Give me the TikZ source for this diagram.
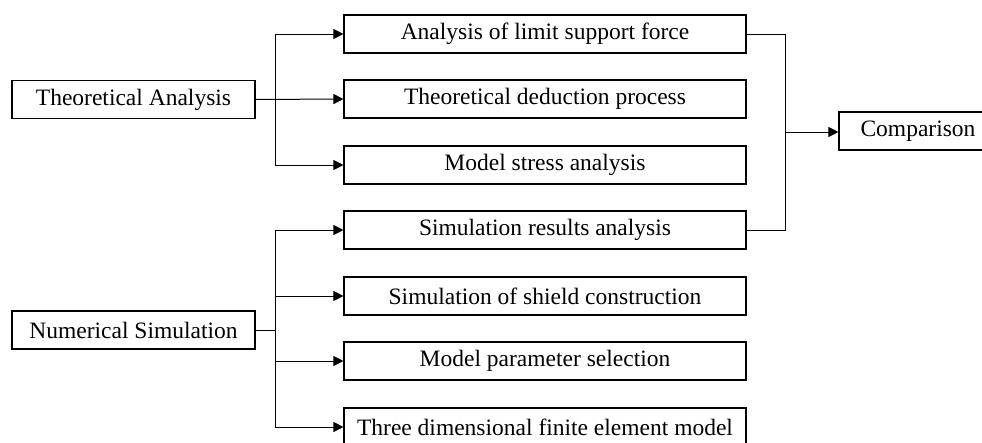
\documentclass[tikz,border=0pt]{standalone}
\usepackage{fontspec}
\setmainfont{Liberation Serif}
\usetikzlibrary{positioning,arrows.meta,calc}

\tikzset{
    box/.style={draw, line width=1.1pt, minimum height=38pt, inner sep=0pt, font=\fontsize{23.5}{26}\selectfont},
    lbox/.style={box, minimum width=243pt},
    rbox/.style={box, minimum width=402pt},
    arr/.style={line width=1pt, -{Triangle[length=10pt,width=10pt]}},
    lin/.style={line width=1pt}
}

\begin{document}
\begin{tikzpicture}[x=1pt, y=-1pt]
    \useasboundingbox (0,0) rectangle (982,442);

    % Linker blokken
    \node[lbox] (theory) at (133.5,99.5) {Theoretical Analysis};
    \node[lbox] (numsim) at (133.5,330) {Numerical Simulation};

    % Rechter blokken
    \node[rbox] (limit)  at (545,34)  {Analysis of limit support force};
    \node[rbox] (deduct) at (545,99)  {Theoretical deduction process};
    \node[rbox] (stress) at (545,165) {Model stress analysis};
    \node[rbox] (simres) at (545,230) {Simulation results analysis};
    \node[rbox] (shield) at (545,296) {Simulation of shield construction};
    \node[rbox] (param)  at (545,361) {Model parameter selection};
    \node[rbox] (fem)    at (545,427) {Three dimensional finite element model};

    % Vergelijking
    \node[box, minimum width=158pt] (compare) at (918,131) {Comparison};

    % Takken theorie
    \draw[arr] (theory.east) -- (deduct.west);
    \draw[arr] (theory.east) -- ++(20,0) |- (limit.west);
    \draw[arr] (theory.east) -- ++(20,0) |- (stress.west);

    % Takken simulatie
    \draw[arr] (numsim.east) -- ++(20,0) |- (simres.west);
    \draw[arr] (numsim.east) -- ++(20,0) |- (shield.west);
    \draw[arr] (numsim.east) -- ++(20,0) |- (param.west);
    \draw[arr] (numsim.east) -- ++(20,0) |- (fem.west);

    % Samenvoegen naar vergelijking
    \coordinate (join) at ($(limit.east)!0.5!(simres.east) + (39,0)$);
    \draw[lin] (limit.east) -| (join) |- (simres.east);
    \draw[arr] (join) -- (join -| compare.west);
\end{tikzpicture}
\end{document}
